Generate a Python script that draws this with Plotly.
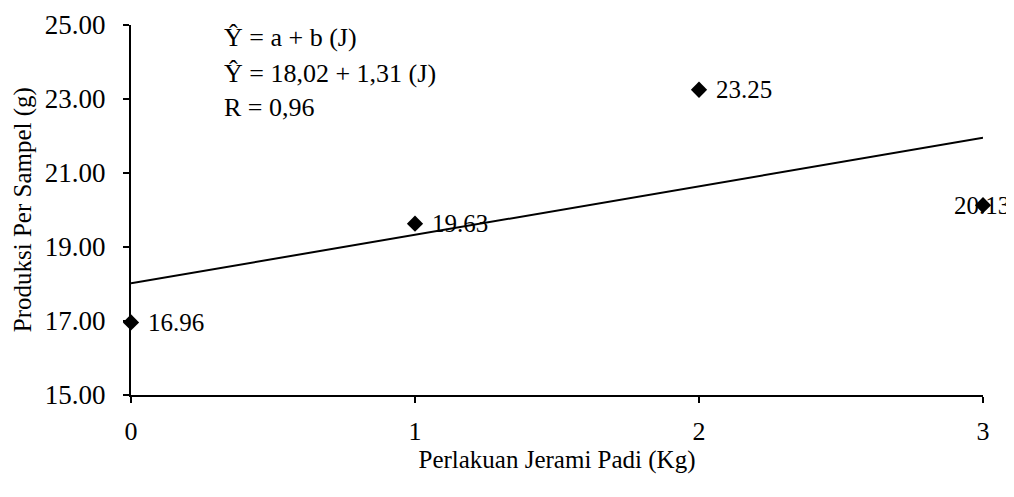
import plotly.graph_objects as go

# Data
jerami = [0, 1, 2, 3]
produksi = [16.96, 19.63, 23.25, 20.13]
label_text = ["16.96", "19.63", "23.25", "20.13"]
coef_a = 18.02
coef_b = 1.31
eq_lines = ["Ŷ = a + b (J)", "Ŷ = 18,02 + 1,31 (J)", "R = 0,96"]
eq_y = [0.965, 0.870, 0.778]
y_ticks = [15, 17, 19, 21, 23, 25]
x_ticks = [0, 1, 2, 3]
x_title = "Perlakuan Jerami Padi (Kg)"
y_title = "Produksi Per Sampel (g)"

FONT = "Liberation Serif, Times New Roman, serif"

fig = go.Figure()

# regression line
line_x = [min(jerami), max(jerami)]
line_y = [coef_a + coef_b * v for v in line_x]
fig.add_trace(go.Scatter(x=line_x, y=line_y, mode="lines",
                         line=dict(color="black", width=2), hoverinfo="skip",
                         cliponaxis=False, showlegend=False))

# data points
fig.add_trace(go.Scatter(x=jerami, y=produksi, mode="markers",
                         marker=dict(symbol="diamond", size=12.5, color="black"),
                         cliponaxis=False, showlegend=False))

# data labels
for i, (xv, yv, t) in enumerate(zip(jerami, produksi, label_text)):
    last = i == len(jerami) - 1
    fig.add_annotation(x=xv, y=yv, text=t, showarrow=False,
                       xanchor="center" if last else "left",
                       xshift=-1 if last else 15, yshift=0,
                       font=dict(family=FONT, size=25, color="black"))

# equation text
for line, yy in zip(eq_lines, eq_y):
    fig.add_annotation(xref="paper", yref="paper", x=0.107, y=yy,
                       xanchor="left", yanchor="middle", text=line,
                       showarrow=False,
                       font=dict(family=FONT, size=26, color="black"))

# y-axis title
fig.add_annotation(xref="paper", yref="paper", x=-0.1265, y=0.5,
                   xanchor="center", yanchor="middle", textangle=-90,
                   text=y_title, showarrow=False, borderpad=0,
                   font=dict(family=FONT, size=25, color="black"))

fig.update_layout(
    width=1006, height=481,
    margin=dict(l=123, r=31, t=17, b=94),
    paper_bgcolor="white", plot_bgcolor="white",
    font=dict(family=FONT, size=25, color="black"),
    showlegend=False,
    xaxis=dict(range=[0, 3], tickvals=x_ticks, ticktext=[str(v) for v in x_ticks],
               showline=True, linecolor="black", linewidth=2,
               ticks="outside", ticklen=6, tickwidth=2, tickcolor="black",
               showgrid=False, zeroline=False, automargin="bottom",
               tickfont=dict(family=FONT, size=26),
               ticklabelstandoff=6,
               title=dict(text=x_title, standoff=5,
                          font=dict(family=FONT, size=25))),
    yaxis=dict(range=[15, 25], tickvals=y_ticks, ticktext=[f"{v:.2f}" for v in y_ticks],
               showline=True, linecolor="black", linewidth=2,
               ticks="outside", ticklen=6, tickwidth=2, tickcolor="black",
               showgrid=False, zeroline=False, automargin=False,
               tickfont=dict(family=FONT, size=27),
               ticklabelstandoff=12),
)

fig.write_html("out.html")
